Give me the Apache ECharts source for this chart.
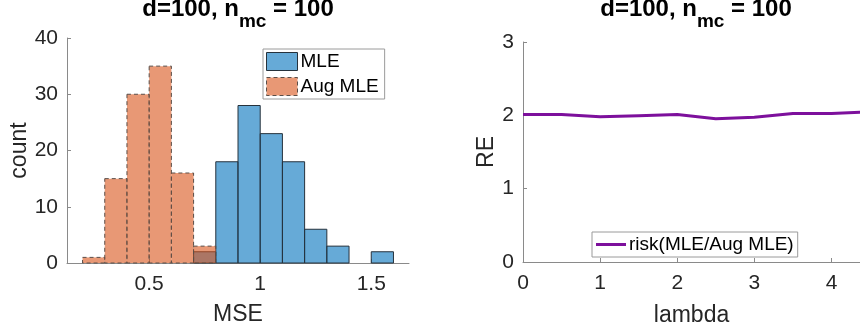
<!DOCTYPE html>
<html lang="en" style="height: 100%">
<head>
    <meta charset="utf-8">
    <script type="text/javascript" src="https://cdn.jsdelivr.net/npm/echarts@6/dist/echarts.min.js"></script>
</head>
<body style="height: 100%; margin: 0; background: #fff">
    <div id="chart" style="height: 333px; width: 860px"></div>

    <script type="text/javascript">
        // histogram bins (left edge), width 0.1
        var binStarts = [0.2, 0.3, 0.4, 0.5, 0.6, 0.7, 0.8, 0.9, 1.0, 1.1, 1.2, 1.3, 1.4, 1.5];
        var binWidth = 0.1;
        var mleCounts = [0, 0, 0, 0, 0, 2, 18, 28, 23, 18, 6, 3, 0, 2];
        var augCounts = [1, 15, 30, 35, 16, 3, 0, 0, 0, 0, 0, 0, 0, 0];
        var mseTicks = [0.5, 1, 1.5];

        // right panel: relative efficiency vs lambda
        var lambdas = [0, 0.5, 1, 1.5, 2, 2.5, 3, 3.5, 4, 4.5];
        var riskRatio = [2.01, 2.01, 1.98, 1.995, 2.01, 1.955, 1.975, 2.025, 2.025, 2.05];
        var lambdaTicks = [0, 1, 2, 3, 4];

        var FONT = '"Liberation Sans", Arial, sans-serif';
        var TXT = '#262626';
        var AX = '#8a8a8a';

        function histData(counts) {
            var out = [];
            binStarts.forEach(function (b, i) {
                if (counts[i] > 0) out.push([b, counts[i]]);
            });
            return out;
        }

        function histRender(fill, stroke, dash) {
            return function (params, api) {
                var x0 = api.value(0);
                var c = api.value(1);
                var p0 = api.coord([x0, c]);
                var p1 = api.coord([x0 + binWidth, 0]);
                return {
                    type: 'rect',
                    shape: { x: p0[0], y: p0[1], width: p1[0] - p0[0], height: p1[1] - p0[1] },
                    style: { fill: fill, stroke: stroke, lineWidth: 1, lineDash: dash }
                };
            };
        }

        var titleRich = {
            t: { fontSize: 24, fontWeight: 'bold', color: '#000', fontFamily: FONT, lineHeight: 26, verticalAlign: 'top' },
            s: { fontSize: 19, fontWeight: 'bold', color: '#000', fontFamily: FONT, lineHeight: 20, padding: [15, 0, 0, 0], verticalAlign: 'top' }
        };
        var titleText = '{t|d=100, n}{s|mc}{t| = 100}';

        function valueAxisStyle() {
            return {
                axisLine: { show: true, lineStyle: { color: AX, width: 1 } },
                axisTick: { show: true, inside: true, length: 4, lineStyle: { color: AX } },
                splitLine: { show: false },
                axisLabel: { color: TXT, fontSize: 21, fontFamily: FONT },
                nameTextStyle: { color: TXT, fontSize: 23, fontFamily: FONT },
                nameLocation: 'middle'
            };
        }

        var chart = echarts.init(document.getElementById('chart'));

        var xLeft = Object.assign(valueAxisStyle(), {
            type: 'value', gridIndex: 0, min: 0.13, max: 1.67, name: 'MSE', nameGap: 40
        });
        xLeft.axisLabel = Object.assign(xLeft.axisLabel, { margin: 11, customValues: mseTicks });
        xLeft.axisTick = Object.assign(xLeft.axisTick, { customValues: mseTicks });

        var yLeft = Object.assign(valueAxisStyle(), {
            type: 'value', gridIndex: 0, min: 0, max: 40, interval: 10, name: 'count', nameGap: 34
        });
        yLeft.axisLabel.margin = 9;

        var xRight = Object.assign(valueAxisStyle(), {
            type: 'value', gridIndex: 1, min: 0, max: 4.37, name: 'lambda', nameGap: 42
        });
        xRight.axisLabel = Object.assign(xRight.axisLabel, { margin: 11, customValues: lambdaTicks });
        xRight.axisTick = Object.assign(xRight.axisTick, { customValues: lambdaTicks });

        var yRight = Object.assign(valueAxisStyle(), {
            type: 'value', gridIndex: 1, min: 0, max: 3, interval: 1, name: 'RE', nameGap: 23
        });
        yRight.axisLabel.margin = 9;

        var titleStyle = { fontSize: 24, fontWeight: 'bold', color: '#000', fontFamily: FONT, rich: titleRich };

        var option = {
            animation: false,
            backgroundColor: '#fff',
            textStyle: { fontFamily: FONT },
            title: [
                { text: titleText, left: 238, top: -3, padding: 0, textAlign: 'center', textStyle: titleStyle },
                { text: titleText, left: 696, top: -3, padding: 0, textAlign: 'center', textStyle: titleStyle }
            ],
            grid: [
                { left: 67, right: 451, top: 38, bottom: 70 },
                { left: 523, right: 0, top: 42, bottom: 71 }
            ],
            legend: [
                {
                    orient: 'vertical', left: 263, top: 49,
                    icon: 'rect', itemWidth: 31, itemHeight: 18, itemGap: 6,
                    padding: [3, 6, 3, 3],
                    borderColor: '#9a9a9a', borderWidth: 1, backgroundColor: '#fff',
                    textStyle: { color: '#000', fontSize: 19, fontFamily: FONT, padding: [0, 0, 0, -2] },
                    data: [
                        { name: 'MLE', itemStyle: { color: 'rgba(0,114,189,0.6)', borderColor: '#26323c', borderWidth: 1 } },
                        { name: 'Aug MLE', itemStyle: { color: 'rgba(217,83,25,0.6)', borderColor: '#5a4e48', borderWidth: 1, borderType: [4, 3] } }
                    ]
                },
                {
                    left: 592, top: 232,
                    icon: 'rect', itemWidth: 30, itemHeight: 3,
                    padding: [3, 4, 3, 4],
                    borderColor: '#9a9a9a', borderWidth: 1, backgroundColor: '#fff',
                    textStyle: { color: '#000', fontSize: 19, fontFamily: FONT, padding: [0, 0, 0, -2] },
                    data: ['risk(MLE/Aug MLE)']
                }
            ],
            xAxis: [xLeft, xRight],
            yAxis: [yLeft, yRight],
            series: [
                {
                    name: 'MLE', type: 'custom', xAxisIndex: 0, yAxisIndex: 0,
                    encode: { x: 0, y: 1 },
                    itemStyle: { color: 'rgba(0,114,189,0.6)', borderColor: '#26323c', borderWidth: 1 },
                    renderItem: histRender('rgba(0,114,189,0.6)', '#26323c', null),
                    data: histData(mleCounts)
                },
                {
                    name: 'Aug MLE', type: 'custom', xAxisIndex: 0, yAxisIndex: 0,
                    encode: { x: 0, y: 1 },
                    itemStyle: { color: 'rgba(217,83,25,0.6)', borderColor: '#5a4e48', borderWidth: 1 },
                    renderItem: histRender('rgba(217,83,25,0.6)', '#5a4e48', [4, 3]),
                    data: histData(augCounts)
                },
                {
                    name: 'risk(MLE/Aug MLE)', type: 'line', xAxisIndex: 1, yAxisIndex: 1,
                    symbol: 'none', clip: true,
                    lineStyle: { color: '#7D109C', width: 3 },
                    itemStyle: { color: '#7D109C' },
                    data: lambdas.map(function (l, i) { return [l, riskRatio[i]]; })
                }
            ]
        };
        chart.setOption(option);
    </script>
</body>
</html>
